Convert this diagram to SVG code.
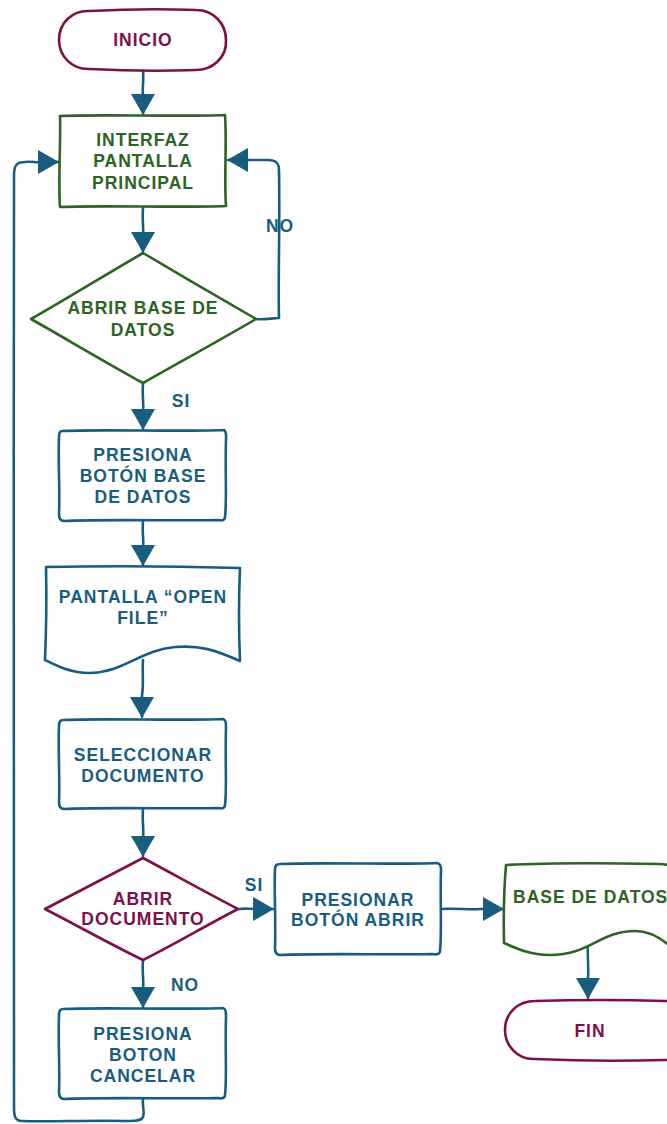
<svg xmlns="http://www.w3.org/2000/svg" width="667" height="1124" viewBox="0 0 667 1124">
  <defs>
    <style>
      .shape { fill: #ffffff; stroke-width: 2.6; stroke-linejoin: round; stroke-linecap: round; }
      .maroon { stroke: #7d1048; }
      .green { stroke: #2d6323; }
      .blue { stroke: #185d7f; }
      .t { font-family: "Liberation Sans", Arial, sans-serif; font-weight: bold; font-size: 17.5px; letter-spacing: 1px; text-anchor: middle; }
      .tm { fill: #7d1048; }
      .tg { fill: #2d6323; }
      .tb { fill: #185d7f; }
      .link { fill: none; stroke: #185d7f; stroke-width: 2.6; stroke-linejoin: round; stroke-linecap: round; marker-end: url(#head); }
    </style>
    <marker id="head" markerUnits="userSpaceOnUse" markerWidth="22" markerHeight="24" refX="20" refY="12" orient="auto">
      <path d="M0,0 L21,12 L0,24 Z" fill="#185d7f"/>
    </marker>
  </defs>

  <!-- connectors -->
  <g id="connectors">
    <path class="link" d="M143,71 C144,80 142,90 143,96 L143,114"/>
    <path class="link" d="M143,208 C142,220 144,232 143,238 L143,252"/>
    <path class="link" d="M256,319 C265,320 272,318 279,318 C278,280 280,230 279,170 C279,162 275,160 268,160 L228,160"/>
    <path class="link" d="M143,384 C142,395 144,405 143,412 L143,429"/>
    <path class="link" d="M143,521 C142,532 144,542 143,548 L143,565"/>
    <path class="link" d="M143,660 C142,672 144,685 142,695 L142,717"/>
    <path class="link" d="M143,809 C142,820 144,830 143,838 L143,856"/>
    <path class="link" d="M239,909 C245,908 250,909 255,909 L273,909"/>
    <path class="link" d="M441,909 C455,908 470,910 480,909 L503,909"/>
    <path class="link" d="M143,961 C142,972 144,982 143,990 L143,1007"/>
    <path class="link" d="M588,941 C587,955 589,968 588,978 L588,998"/>
    <path class="link" d="M143,1099 C142,1106 145,1112 143,1117 C142,1120 138,1121 130,1121 C90,1120 50,1122 22,1121 C15,1121 14,1116 14,1108 C15,900 13,500 14,175 C14,165 17,162 25,162 C32,161 36,163 40,162 L58,162"/>
  </g>

  <!-- INICIO -->
  <g id="inicio">
    <path class="shape maroon" d="M90,11 Q145,8 196,10 C214,10 226,24 226,40 C227,58 212,70 196,70 Q145,72 90,69 C72,70 59,56 59,40 C59,23 72,10 90,11 Z"/>
    <text class="t tm" x="143" y="46">INICIO</text>
  </g>

  <!-- INTERFAZ PANTALLA PRINCIPAL -->
  <g id="interfaz">
    <path class="shape green" d="M60,116 C100,114 180,117 225,115 C227,140 224,180 226,206 C180,208 100,205 60,207 C58,180 61,140 60,116 Z"/>
    <text class="t tg" x="143" y="146">INTERFAZ</text>
    <text class="t tg" x="143" y="167">PANTALLA</text>
    <text class="t tg" x="143" y="189">PRINCIPAL</text>
  </g>

  <!-- ABRIR BASE DE DATOS -->
  <g id="abrir-base">
    <path class="shape green" d="M143,253 C180,275 220,298 256,319 C220,340 180,362 143,383 C105,362 68,340 31,319 C68,298 105,275 143,253 Z"/>
    <text class="t tg" x="143" y="314">ABRIR BASE DE</text>
    <text class="t tg" x="143" y="336">DATOS</text>
  </g>

  <!-- PRESIONA BOTÓN BASE DE DATOS -->
  <g id="presiona-base">
    <path class="shape blue" d="M62,431 C100,429 180,432 224,430 C227,432 226,435 226,440 C225,470 227,500 225,517 C225,520 222,521 218,520 C180,521 100,519 64,521 C60,521 59,518 59,514 C60,490 58,460 59,437 C59,433 60,431 62,431 Z"/>
    <text class="t tb" x="143" y="461">PRESIONA</text>
    <text class="t tb" x="143" y="482">BOTÓN BASE</text>
    <text class="t tb" x="143" y="503">DE DATOS</text>
  </g>

  <!-- PANTALLA "OPEN FILE" -->
  <g id="pantalla-open">
    <path class="shape blue" d="M46,567 Q140,565 240,568 Q238,615 240,661 C215,650 200,645 175,647 C140,650 125,672 90,673 C70,673 55,665 45,660 Q47,612 46,567 Z"/>
    <text class="t tb" x="143" y="603">PANTALLA “OPEN</text>
    <text class="t tb" x="143" y="624">FILE”</text>
  </g>

  <!-- SELECCIONAR DOCUMENTO -->
  <g id="seleccionar">
    <path class="shape blue" d="M63,720 C100,718 180,721 223,719 C226,720 226,723 226,728 C225,760 227,790 225,805 C225,808 222,809 218,808 C180,809 100,807 64,809 C60,809 59,806 59,802 C60,780 58,750 59,726 C59,722 60,720 63,720 Z"/>
    <text class="t tb" x="143" y="761">SELECCIONAR</text>
    <text class="t tb" x="143" y="782">DOCUMENTO</text>
  </g>

  <!-- ABRIR DOCUMENTO -->
  <g id="abrir-documento">
    <path class="shape maroon" d="M143,858 C175,875 205,892 238,909 C205,926 175,944 143,960 C110,944 78,926 45,909 C78,892 110,875 143,858 Z"/>
    <text class="t tm" x="143" y="905">ABRIR</text>
    <text class="t tm" x="143" y="925">DOCUMENTO</text>
  </g>

  <!-- PRESIONA BOTON CANCELAR -->
  <g id="presiona-cancelar">
    <path class="shape blue" d="M63,1009 C100,1007 180,1010 223,1008 C226,1009 226,1012 226,1017 C225,1050 227,1080 225,1095 C225,1098 222,1099 218,1098 C180,1099 100,1097 64,1099 C60,1099 59,1096 59,1092 C60,1070 58,1040 59,1015 C59,1011 60,1009 63,1009 Z"/>
    <text class="t tb" x="143" y="1040">PRESIONA</text>
    <text class="t tb" x="143" y="1061">BOTON</text>
    <text class="t tb" x="143" y="1082">CANCELAR</text>
  </g>

  <!-- PRESIONAR BOTÓN ABRIR -->
  <g id="presionar-abrir">
    <path class="shape blue" d="M280,864 C320,862 400,865 437,863 C441,864 441,867 441,871 C440,900 442,930 440,951 C440,954 437,955 432,954 C400,955 320,953 280,955 C276,955 275,952 275,948 C276,920 274,890 275,869 C275,865 277,864 280,864 Z"/>
    <text class="t tb" x="358" y="906">PRESIONAR</text>
    <text class="t tb" x="358" y="926">BOTÓN ABRIR</text>
  </g>

  <!-- BASE DE DATOS -->
  <g id="base-datos">
    <path class="shape green" d="M506,865 Q560,862 660,864 C668,864 672,866 674,870 L674,950 C664,940 652,931 635,931 C600,931 590,955 550,955 C530,955 515,948 504,943 Q503,900 506,865 Z"/>
    <text class="t tg" x="513" y="903" style="text-anchor:start">BASE DE DATOS</text>
  </g>

  <!-- FIN -->
  <g id="fin">
    <path class="shape maroon" d="M535,1001 Q600,999 665,1001 C683,1001 696,1014 696,1030 C696,1047 683,1060 665,1060 Q600,1062 535,1059 C518,1060 505,1046 505,1030 C505,1013 518,1001 535,1001 Z"/>
    <text class="t tm" x="590" y="1037">FIN</text>
  </g>

  <!-- branch labels -->
  <g id="labels">
    <text class="t tb" x="280" y="232">NO</text>
    <text class="t tb" x="181" y="407">SI</text>
    <text class="t tb" x="254" y="891">SI</text>
    <text class="t tb" x="185" y="991">NO</text>
  </g>
</svg>
